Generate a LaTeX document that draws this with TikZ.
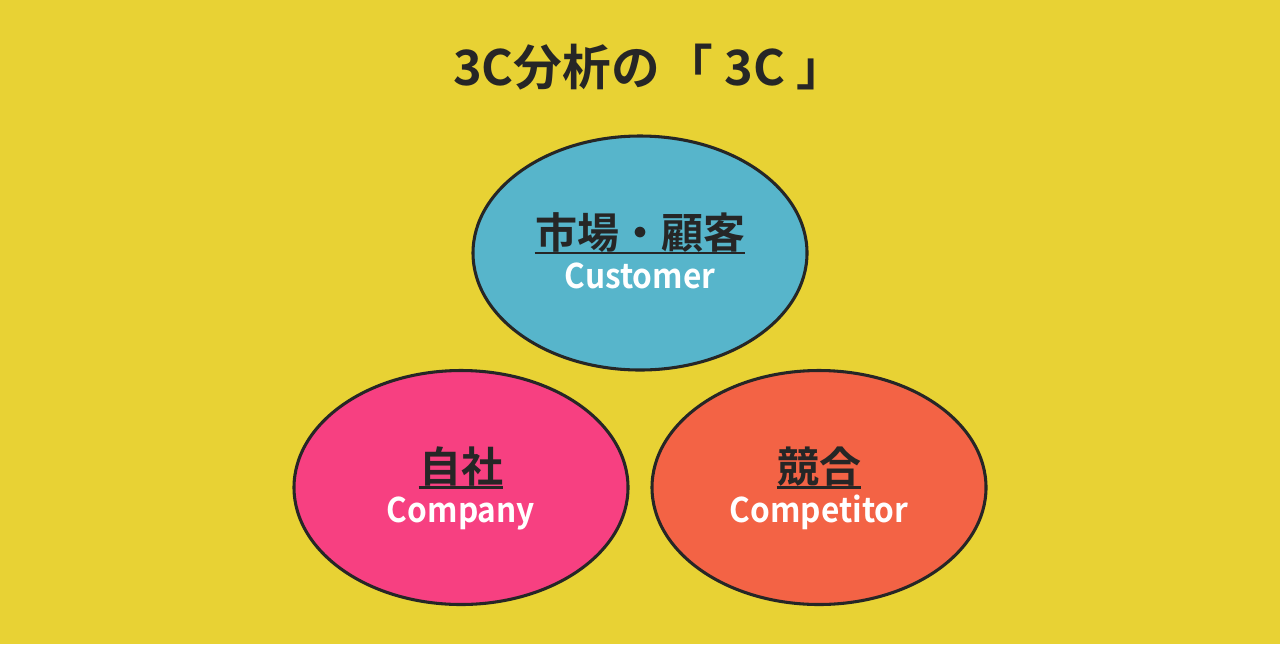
\documentclass[tikz,border=0pt]{standalone}
\usepackage{fontspec}
\setmainfont{Noto Sans CJK JP}[BoldFont={* Bold}]
\newfontfamily\narrowfont{Noto Sans CJK JP}[UprightFont={* Bold}, FakeStretch=0.93]
\usetikzlibrary{calc, shapes.geometric, positioning}

\definecolor{bgyellow}{RGB}{232,210,52}
\definecolor{custblue}{RGB}{87,181,203}
\definecolor{comppink}{RGB}{247,64,129}
\definecolor{rivalorange}{RGB}{243,99,69}
\definecolor{ink}{RGB}{38,38,38}

\tikzset{
    oval/.style={ellipse, draw=ink, line width=2.3pt, minimum width=250.5pt, minimum height=175.5pt, inner sep=0pt},
    jlabel/.style={anchor=base, inner sep=0pt, text=ink, font=\fontsize{31.5}{34}\selectfont\bfseries},
    elabel/.style={anchor=base, inner sep=0pt, text=white, font=\fontsize{25.5}{28}\narrowfont},
    uline/.style={ink, line width=1.6pt},
}

\begin{document}
\begin{tikzpicture}[x=0.75pt, y=-0.75pt]
    \fill[bgyellow] (0,0) rectangle (1280,644);
    \useasboundingbox (0,0) rectangle (1280,644);

    \node[anchor=base, text=ink, font=\fontsize{36.5}{40}\selectfont\bfseries] (title) at (649,85) {3C分析の\hspace{0.1em}「 3C 」};

    \node[oval, fill=custblue] (cust) at (640,253) {};
    \node[oval, fill=comppink] (comp) at (461,487.5) {};
    \node[oval, fill=rivalorange] (rival) at (819,487.5) {};

    \node[jlabel] (custj) at ($(cust)+(0,-5)$) {市場・顧客};
    \node[elabel] (custe) at ($(cust)+(0,35)$) {Customer};
    \draw[uline] (custj.west |- cust) -- (custj.east |- cust);

    \node[jlabel] (compj) at ($(comp)+(0,-5)$) {自社};
    \node[elabel] (compe) at ($(comp)+(0,35)$) {Company};
    \draw[uline] (compj.west |- comp) -- (compj.east |- comp);

    \node[jlabel] (rivalj) at ($(rival)+(0,-5)$) {競合};
    \node[elabel] (rivale) at ($(rival)+(0,35)$) {Competitor};
    \draw[uline] (rivalj.west |- rival) -- (rivalj.east |- rival);
\end{tikzpicture}
\end{document}
